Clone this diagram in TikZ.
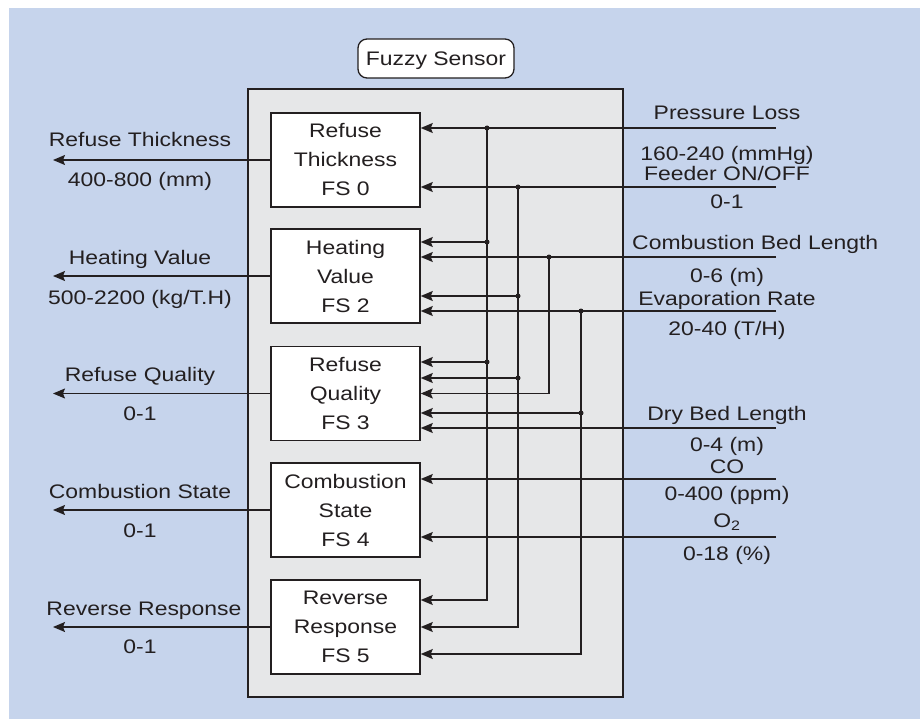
\documentclass[tikz,border=0pt]{standalone}
\usepackage{fontspec}
\setmainfont{Liberation Sans}[FakeStretch=1.17]
\usetikzlibrary{arrows.meta}
\definecolor{bgblue}{HTML}{C6D4EC}
\definecolor{panelgray}{HTML}{E6E7E8}
\definecolor{ink}{HTML}{231F20}
\newcommand\lblfont{\fontsize{19.6}{29}\selectfont}
\tikzset{
  fsbox/.style={draw=ink, line width=1.5pt, fill=white, minimum width=149pt,
    minimum height=94pt, inner sep=0pt, align=center, font=\lblfont, text=ink},
  sig/.style={draw=ink, line width=1.3pt},
  arr/.style={sig, -{Stealth[length=12pt,width=10pt,inset=2pt]}},
  lbl/.style={font=\lblfont, text=ink, inner sep=0pt, anchor=base},
  jdot/.style={circle, fill=ink, inner sep=0pt, minimum size=5pt},
}
\begin{document}
\begin{tikzpicture}[x=1pt,y=-1pt]
\useasboundingbox (0,0) rectangle (920,719);
\fill[bgblue] (9,8) rectangle (920,719);
% outer panel
\node[draw=ink, line width=2.5pt, fill=panelgray, minimum width=375pt,
  minimum height=608pt, inner sep=0pt] (panel) at (435.5,393) {};
% title
\node[draw=ink, line width=1.3pt, rounded corners=9pt, fill=white,
  minimum width=156pt, minimum height=39pt, inner sep=0pt, font=\lblfont,
  text=ink, text height=14pt, text depth=0pt] (title) at (436,58.5) {Fuzzy Sensor};
% fuzzy sensor boxes
\node[fsbox] (fs0) at (345.5,160) {Refuse\\Thickness\\FS 0};
\node[fsbox] (fs2) at (345.5,276) {Heating\\Value\\FS 2};
\node[fsbox] (fs3) at (345.5,393.5) {Refuse\\Quality\\FS 3};
\node[fsbox] (fs4) at (345.5,510) {Combustion\\State\\FS 4};
\node[fsbox] (fs5) at (345.5,627) {Reverse\\Response\\FS 5};
% input ends
\coordinate (inPL) at (776,128);
\coordinate (inFD) at (776,187);
\coordinate (inCB) at (776,257);
\coordinate (inEV) at (776,311);
\coordinate (inDB) at (776,428);
\coordinate (inCO) at (776,479);
\coordinate (inO2) at (776,537);
% junctions
\coordinate (jA) at (487,128);
\coordinate (a2) at (487,242);
\coordinate (a3) at (487,362);
\coordinate (jB) at (518,187);
\coordinate (b2) at (518,296);
\coordinate (b3) at (518,378);
\coordinate (jC) at (549,257);
\coordinate (jD) at (581,311);
\coordinate (d3) at (581,413);
% direct inputs
\draw[arr] (inPL) -- (inPL -| fs0.east);
\draw[arr] (inFD) -- (inFD -| fs0.east);
\draw[arr] (inCB) -- (inCB -| fs2.east);
\draw[arr] (inEV) -- (inEV -| fs2.east);
\draw[arr] (inDB) -- (inDB -| fs3.east);
\draw[arr] (inCO) -- (inCO -| fs4.east);
\draw[arr] (inO2) -- (inO2 -| fs4.east);
% distribution buses
\draw[arr] (jA) |- ([yshift=27pt]fs5.east);
\draw[arr] (a2) -- (a2 -| fs2.east);
\draw[arr] (a3) -- (a3 -| fs3.east);
\draw[arr] (jB) |- (fs5.east);
\draw[arr] (b2) -- (b2 -| fs2.east);
\draw[arr] (b3) -- (b3 -| fs3.east);
\draw[arr] (jC) |- (fs3.east);
\draw[arr] (jD) |- ([yshift=-27pt]fs5.east);
\draw[arr] (d3) -- (d3 -| fs3.east);
\foreach \p in {jA,a2,a3,jB,b2,b3,jC,jD,d3} \node[jdot] at (\p) {};
% outputs
\coordinate (outx) at (53,0);
\foreach \b in {fs0,fs2,fs3,fs4,fs5} \draw[arr] (\b.west) -- (\b.west -| outx);
% right labels
\node[lbl] at (727,120) {Pressure Loss};
\node[lbl] at (727,161) {160-240 (mmHg)};
\node[lbl] at (727,181) {Feeder ON/OFF};
\node[lbl] at (727,209) {0-1};
\node[lbl, anchor=base west] at (632,249) {Combustion Bed Length};
\node[lbl] at (727,282) {0-6 (m)};
\node[lbl] at (727,305) {Evaporation Rate};
\node[lbl] at (727,335) {20-40 (T/H)};
\node[lbl] at (727,420) {Dry Bed Length};
\node[lbl] at (727,451) {0-4 (m)};
\node[lbl] at (727,473) {CO};
\node[lbl] at (727,500) {0-400 (ppm)};
\node[lbl] at (727,527) {O\textsubscript{2}};
\node[lbl] at (727,560) {0-18 (\%)};
% left labels
\node[lbl] at (140,147) {Refuse Thickness};
\node[lbl] at (140,187) {400-800 (mm)};
\node[lbl] at (140,264) {Heating Value};
\node[lbl] at (140,304) {500-2200 (kg/T.H)};
\node[lbl] at (140,381) {Refuse Quality};
\node[lbl] at (140,420) {0-1};
\node[lbl] at (140,498) {Combustion State};
\node[lbl] at (140,537) {0-1};
\node[lbl] at (144,615) {Reverse Response};
\node[lbl] at (140,653) {0-1};
\end{tikzpicture}
\end{document}
